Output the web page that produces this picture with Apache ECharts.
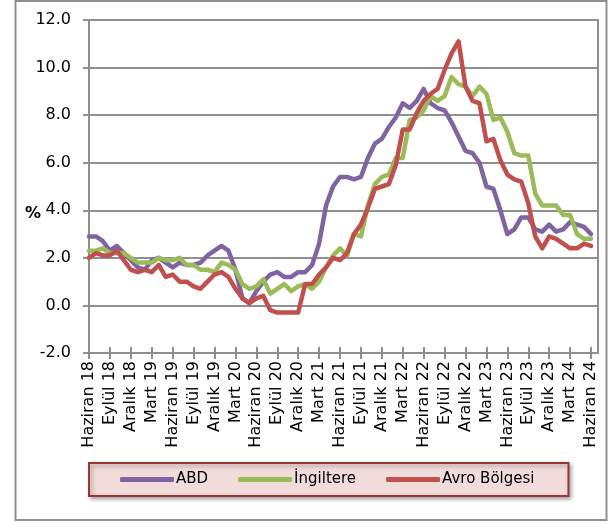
<!DOCTYPE html>
<html>
<head>
<meta charset="utf-8">
<script src="https://cdn.jsdelivr.net/npm/echarts@6/dist/echarts.min.js"></script>
<style>
html,body{margin:0;padding:0;background:#fff;}
#c{width:609px;height:523px;}
</style>
</head>
<body>
<div id="c"></div>
<script>
// Month names (Turkish) used to build the monthly category labels (Haziran 2018 .. Temmuz 2024)
const monthNames = ['Ocak','Şubat','Mart','Nisan','Mayıs','Haziran','Temmuz','Ağustos','Eylül','Ekim','Kasım','Aralık'];
const startYear = 2018, startMonth = 5, monthCount = 74;

const seriesNames = ['ABD', 'İngiltere', 'Avro Bölgesi'];

// ABD (Haziran 18 .. Haziran 24), last category empty
const abd = [
  2.9, 2.9, 2.7, 2.3, 2.5, 2.2, 1.9,
  1.6, 1.5, 1.9, 2.0, 1.8, 1.6, 1.8, 1.7, 1.7, 1.8, 2.1, 2.3,
  2.5, 2.3, 1.5, 0.3, 0.1, 0.6, 1.0, 1.3, 1.4, 1.2, 1.2, 1.4,
  1.4, 1.7, 2.6, 4.2, 5.0, 5.4, 5.4, 5.3, 5.4, 6.2, 6.8, 7.0,
  7.5, 7.9, 8.5, 8.3, 8.6, 9.1, 8.5, 8.3, 8.2, 7.7, 7.1, 6.5,
  6.4, 6.0, 5.0, 4.9, 4.0, 3.0, 3.2, 3.7, 3.7, 3.2, 3.1, 3.4,
  3.1, 3.2, 3.5, 3.4, 3.3, 3.0, null
];

// İngiltere
const ingiltere = [
  2.3, 2.3, 2.4, 2.2, 2.2, 2.2, 2.0,
  1.8, 1.8, 1.8, 2.0, 1.9, 1.9, 2.0, 1.7, 1.7, 1.5, 1.5, 1.4,
  1.8, 1.7, 1.5, 0.9, 0.7, 0.8, 1.1, 0.5, 0.7, 0.9, 0.6, 0.8,
  0.9, 0.7, 1.0, 1.6, 2.1, 2.4, 2.1, 3.0, 2.9, 4.2, 5.1, 5.4,
  5.5, 6.2, 6.2, 7.8, 7.9, 8.2, 8.8, 8.6, 8.8, 9.6, 9.3, 9.2,
  8.8, 9.2, 8.9, 7.8, 7.9, 7.3, 6.4, 6.3, 6.3, 4.7, 4.2, 4.2,
  4.2, 3.8, 3.8, 3.0, 2.8, 2.8, null
];

// Avro Bölgesi
const avro = [
  2.0, 2.2, 2.1, 2.1, 2.3, 1.9, 1.5,
  1.4, 1.5, 1.4, 1.7, 1.2, 1.3, 1.0, 1.0, 0.8, 0.7, 1.0, 1.3,
  1.4, 1.2, 0.7, 0.3, 0.1, 0.3, 0.4, -0.2, -0.3, -0.3, -0.3, -0.3,
  0.9, 0.9, 1.3, 1.6, 2.0, 1.9, 2.2, 3.0, 3.4, 4.1, 4.9, 5.0,
  5.1, 5.9, 7.4, 7.4, 8.1, 8.6, 8.9, 9.1, 9.9, 10.6, 11.1, 9.2,
  8.6, 8.5, 6.9, 7.0, 6.1, 5.5, 5.3, 5.2, 4.3, 2.9, 2.4, 2.9,
  2.8, 2.6, 2.4, 2.4, 2.6, 2.5, null
];

const yMin = -2, yMax = 12, yStep = 2;
const unitLabel = '%';

const categories = [];
for (let i = 0; i < monthCount; i++) {
  const m = (startMonth + i) % 12;
  const y = startYear + Math.floor((startMonth + i) / 12);
  categories.push(monthNames[m] + ' ' + String(y).slice(2));
}

const FONT = 'DejaVu Sans';
const GRID_COLOR = '#8f8f8f';
const colors = ['#8064a2', '#9bbb59', '#c0504d'];

const chart = echarts.init(document.getElementById('c'), null, {renderer: 'canvas'});
chart.setOption({
  animation: false,
  backgroundColor: '#ffffff',
  color: colors,
  grid: {
    left: 89, top: 20, right: 11, bottom: 170,
    show: true, borderColor: GRID_COLOR, borderWidth: 2, backgroundColor: 'transparent'
  },
  xAxis: [{
    type: 'category',
    data: categories,
    boundaryGap: false,
    axisLine: {show: true, onZero: false, lineStyle: {color: GRID_COLOR, width: 2}},
    axisTick: {show: true, interval: 2, length: 6, lineStyle: {color: GRID_COLOR, width: 2}},
    axisLabel: {interval: 2, rotate: 90, margin: 8, color: '#000', fontFamily: FONT, fontSize: 16},
    splitLine: {show: false}
  }, {
    type: 'category',
    data: categories,
    boundaryGap: false,
    position: 'bottom',
    axisLine: {show: false, onZero: false},
    axisTick: {show: true, inside: true, interval: 2, length: 6, lineStyle: {color: GRID_COLOR, width: 2}},
    axisLabel: {show: false},
    splitLine: {show: false}
  }],
  yAxis: {
    type: 'value',
    min: yMin, max: yMax, interval: yStep,
    axisLine: {show: true, lineStyle: {color: GRID_COLOR, width: 2}},
    axisTick: {show: true, length: 6, lineStyle: {color: GRID_COLOR, width: 2}},
    axisLabel: {margin: 18, color: '#000', fontFamily: FONT, fontSize: 16,
      formatter: v => v.toFixed(1)},
    splitLine: {show: true, lineStyle: {color: GRID_COLOR, width: 2}}
  },
  legend: {
    data: seriesNames,
    left: 89, top: 463,
    orient: 'horizontal',
    icon: 'roundRect',
    itemWidth: 54, itemHeight: 5,
    itemGap: 30,
    padding: [9, 34, 9, 31],
    backgroundColor: '#f2dcdb',
    borderColor: '#953735',
    borderWidth: 2,
    shadowBlur: 4, shadowColor: 'rgba(0,0,0,0.35)', shadowOffsetX: 2, shadowOffsetY: 2,
    textStyle: {color: '#000', fontFamily: FONT, fontSize: 15, padding: [0, 0, 0, -3]}
  },
  graphic: [
    {type: 'rect', silent: true, z: -1,
      shape: {x: 15.5, y: 1, width: 591, height: 519},
      style: {fill: 'none', stroke: '#8f8f8f', lineWidth: 2}},
    {type: 'text', left: 25, top: 206,
      style: {text: unitLabel, fill: '#000', font: 'bold 16px ' + FONT}}
  ],
  series: [
    {name: seriesNames[0], type: 'line', data: abd, xAxisIndex: 0, showSymbol: false,
      lineStyle: {width: 4.5, color: colors[0], cap: 'round', join: 'round'}, z: 2},
    {name: seriesNames[1], type: 'line', data: ingiltere, xAxisIndex: 0, showSymbol: false,
      lineStyle: {width: 4.5, color: colors[1], cap: 'round', join: 'round'}, z: 3},
    {name: seriesNames[2], type: 'line', data: avro, xAxisIndex: 0, showSymbol: false,
      lineStyle: {width: 4.5, color: colors[2], cap: 'round', join: 'round'}, z: 4}
  ]
});
</script>
</body>
</html>
